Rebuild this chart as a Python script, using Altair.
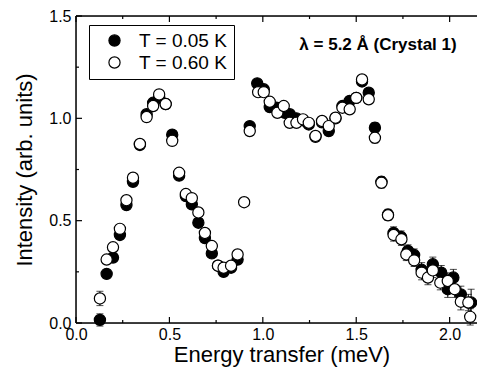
import altair as alt
import pandas as pd

# T = 0.05 K (filled)
x_cold = [0.128, 0.164, 0.198, 0.235, 0.27, 0.305, 0.342, 0.378, 0.413, 0.445, 0.48,
          0.515, 0.552, 0.588, 0.62, 0.655, 0.69, 0.727, 0.76, 0.79, 0.83, 0.865,
          0.93, 0.97, 1.005, 1.037, 1.073, 1.118, 1.144, 1.18, 1.215, 1.246, 1.282,
          1.317, 1.353, 1.389, 1.426, 1.465, 1.50, 1.531, 1.567, 1.60, 1.635, 1.67,
          1.70, 1.74, 1.777, 1.81, 1.85, 1.884, 1.91, 1.955, 1.99, 2.02, 2.06, 2.115]
y_cold = [0.015, 0.24, 0.32, 0.43, 0.576, 0.69, 0.87, 1.02, 1.076, 1.10, 1.07,
          0.92, 0.72, 0.62, 0.58, 0.49, 0.415, 0.34, 0.28, 0.25, 0.27, 0.31,
          0.962, 1.171, 1.142, 1.055, 1.052, 1.027, 1.02, 1.0, 0.99, 0.97, 0.91,
          0.98, 0.938, 1.0, 1.06, 1.085, 1.10, 1.18, 1.125, 0.954, 0.69, 0.53,
          0.44, 0.42, 0.352, 0.332, 0.26, 0.24, 0.287, 0.246, 0.165, 0.222, 0.14, 0.10]
e_cold = [0.03, 0.02, 0.02, 0.02, 0.02, 0.02, 0.02, 0.02, 0.02, 0.02, 0.02,
          0.02, 0.02, 0.02, 0.02, 0.02, 0.02, 0.02, 0.02, 0.02, 0.02, 0.02,
          0.02, 0.02, 0.02, 0.02, 0.02, 0.02, 0.02, 0.02, 0.02, 0.02, 0.02,
          0.02, 0.02, 0.02, 0.02, 0.02, 0.02, 0.02, 0.02, 0.025, 0.025, 0.025,
          0.03, 0.03, 0.03, 0.03, 0.035, 0.035, 0.035, 0.035, 0.04, 0.04, 0.04, 0.065]

# T = 0.60 K (open)
x_warm = [0.128, 0.164, 0.198, 0.235, 0.27, 0.305, 0.342, 0.378, 0.413, 0.445, 0.48,
          0.515, 0.552, 0.588, 0.62, 0.655, 0.69, 0.727, 0.76, 0.79, 0.83, 0.865, 0.90,
          0.93, 0.975, 1.005, 1.037, 1.078, 1.112, 1.144, 1.18, 1.215, 1.246, 1.282,
          1.317, 1.353, 1.389, 1.426, 1.465, 1.50, 1.531, 1.567, 1.60, 1.635, 1.67,
          1.70, 1.742, 1.768, 1.81, 1.85, 1.884, 1.91, 1.95, 1.99, 2.027, 2.06, 2.10, 2.11]
y_warm = [0.12, 0.31, 0.37, 0.46, 0.60, 0.71, 0.875, 1.006, 1.06, 1.117, 1.07,
          0.89, 0.734, 0.63, 0.61, 0.54, 0.44, 0.376, 0.28, 0.27, 0.28, 0.335, 0.59,
          0.938, 1.128, 1.128, 1.081, 1.027, 1.06, 0.978, 0.978, 0.995, 0.978, 0.914,
          0.987, 0.962, 1.003, 1.052, 1.044, 1.10, 1.19, 1.093, 0.905, 0.685, 0.526,
          0.43, 0.409, 0.335, 0.306, 0.246, 0.222, 0.257, 0.197, 0.205, 0.165, 0.104, 0.10, 0.03]
e_warm = [0.035, 0.02, 0.02, 0.02, 0.02, 0.02, 0.02, 0.02, 0.02, 0.02, 0.02,
          0.02, 0.02, 0.02, 0.02, 0.02, 0.02, 0.02, 0.02, 0.02, 0.02, 0.02, 0.02,
          0.02, 0.02, 0.02, 0.02, 0.02, 0.02, 0.02, 0.02, 0.02, 0.02, 0.02,
          0.02, 0.02, 0.02, 0.02, 0.02, 0.02, 0.02, 0.02, 0.025, 0.025, 0.025,
          0.03, 0.03, 0.03, 0.03, 0.035, 0.035, 0.035, 0.035, 0.04, 0.04, 0.04, 0.04, 0.04]

series = ["T = 0.05 K", "T = 0.60 K"]
x_major = [0.0, 0.5, 1.0, 1.5, 2.0]
x_minor = [0.25, 0.75, 1.25, 1.75]
y_major = [0.0, 0.5, 1.0, 1.5]
y_minor = [0.25, 0.75, 1.25]

W, H = 411, 307
XDOM = [0, 2.2]
YDOM = [0, 1.5]
FONT = "Liberation Sans"

rows = []
for x, y, e in zip(x_cold, y_cold, e_cold):
    rows.append({"E": x, "I": y, "lo": y - e, "hi": y + e, "s": series[0], "o": 0})
for x, y, e in zip(x_warm, y_warm, e_warm):
    rows.append({"E": x, "I": y, "lo": y - e, "hi": y + e, "s": series[1], "o": 1})
df = pd.DataFrame(rows)

xs = alt.Scale(domain=XDOM, nice=False, zero=False)
ys = alt.Scale(domain=YDOM, nice=False, zero=False)

xenc = alt.X("E:Q", scale=xs, axis=alt.Axis(
    title="Energy transfer (meV)", values=x_major, format=".1f", ticks=False,
    domain=False, grid=False, labelFontSize=16, titleFontSize=22, labelPadding=3,
    titlePadding=2, labelFont=FONT, titleFont=FONT, labelColor="black",
    titleColor="black", titleFontWeight="normal", labelFlush=False))
yenc = alt.Y("I:Q", scale=ys, axis=alt.Axis(
    title="Intensity (arb. units)", values=y_major, format=".1f", ticks=False,
    domain=False, grid=False, labelFontSize=16, titleFontSize=22, labelPadding=5,
    titlePadding=12, labelFont=FONT, titleFont=FONT, labelColor="black",
    titleColor="black", titleFontWeight="normal", labelFlush=False))

base = alt.Chart(df)

bars = base.mark_rule(color="black", strokeWidth=1).encode(
    x=alt.X("E:Q", scale=xs), y=alt.Y("lo:Q", scale=ys), y2="hi:Q")
caps_hi = base.mark_tick(color="black", orient="horizontal", size=7, thickness=1).encode(
    x=alt.X("E:Q", scale=xs), y=alt.Y("hi:Q", scale=ys))
caps_lo = base.mark_tick(color="black", orient="horizontal", size=7, thickness=1).encode(
    x=alt.X("E:Q", scale=xs), y=alt.Y("lo:Q", scale=ys))

points = base.mark_point(shape="circle", size=125, stroke="black", strokeWidth=1.2,
                         opacity=1, filled=False).encode(
    x=xenc, y=yenc,
    fill=alt.Fill("s:N", scale=alt.Scale(domain=series, range=["black", "white"]),
                  legend=alt.Legend(title=None, orient="none", legendX=13, legendY=9,
                                    strokeColor="black", padding=6, symbolSize=125,
                                    symbolStrokeColor="black", symbolStrokeWidth=1.2,
                                    labelFontSize=19, labelFont=FONT, labelColor="black",
                                    labelOffset=15, symbolOffset=10, rowPadding=2,
                                    fillColor="white")),
    order=alt.Order("o:Q"))

def tick_layer(vals, kind, length):
    d = pd.DataFrame({"v": vals})
    c = alt.Chart(d).mark_rule(color="black", strokeWidth=1.2)
    if kind == "bottom":
        return c.encode(x=alt.X("v:Q", scale=xs), y=alt.value(H), y2=alt.value(H - length))
    if kind == "top":
        return c.encode(x=alt.X("v:Q", scale=xs), y=alt.value(0), y2=alt.value(length))
    if kind == "left":
        return c.encode(y=alt.Y("v:Q", scale=ys), x=alt.value(0), x2=alt.value(length))
    return c.encode(y=alt.Y("v:Q", scale=ys), x=alt.value(W), x2=alt.value(W - length))

ticks = []
for k in ["bottom", "top"]:
    ticks.append(tick_layer(x_major, k, 6))
    ticks.append(tick_layer(x_minor, k, 3))
for k in ["left", "right"]:
    ticks.append(tick_layer(y_major, k, 6))
    ticks.append(tick_layer(y_minor, k, 3))

# frame: left, top, bottom edges (the right edge lies outside the picture)
frame_df = pd.DataFrame({"k": [0]})
frame = [
    alt.Chart(frame_df).mark_rule(color="black", strokeWidth=1.5).encode(
        x=alt.value(0), y=alt.value(0), y2=alt.value(H)),
    alt.Chart(frame_df).mark_rule(color="black", strokeWidth=1.5).encode(
        x=alt.value(0), x2=alt.value(W), y=alt.value(0)),
    alt.Chart(frame_df).mark_rule(color="black", strokeWidth=1.5).encode(
        x=alt.value(0), x2=alt.value(W), y=alt.value(H)),
]

label = alt.Chart(pd.DataFrame({"t": ["λ = 5.2 Å (Crystal 1)"]})).mark_text(
    fontSize=17, fontWeight="bold", font=FONT, color="black", align="center",
    baseline="middle").encode(text="t:N", x=alt.value(302), y=alt.value(29))

chart = alt.layer(*frame, *ticks, bars, caps_hi, caps_lo, points, label).properties(
    width=W, height=H,
    autosize=alt.AutoSizeParams(type="none"),
    padding={"left": 68, "top": 8, "right": -10, "bottom": 44},
).configure_view(strokeWidth=0).configure(background="white")

chart.save("out.html", embed_options={"renderer": "svg", "actions": False})
